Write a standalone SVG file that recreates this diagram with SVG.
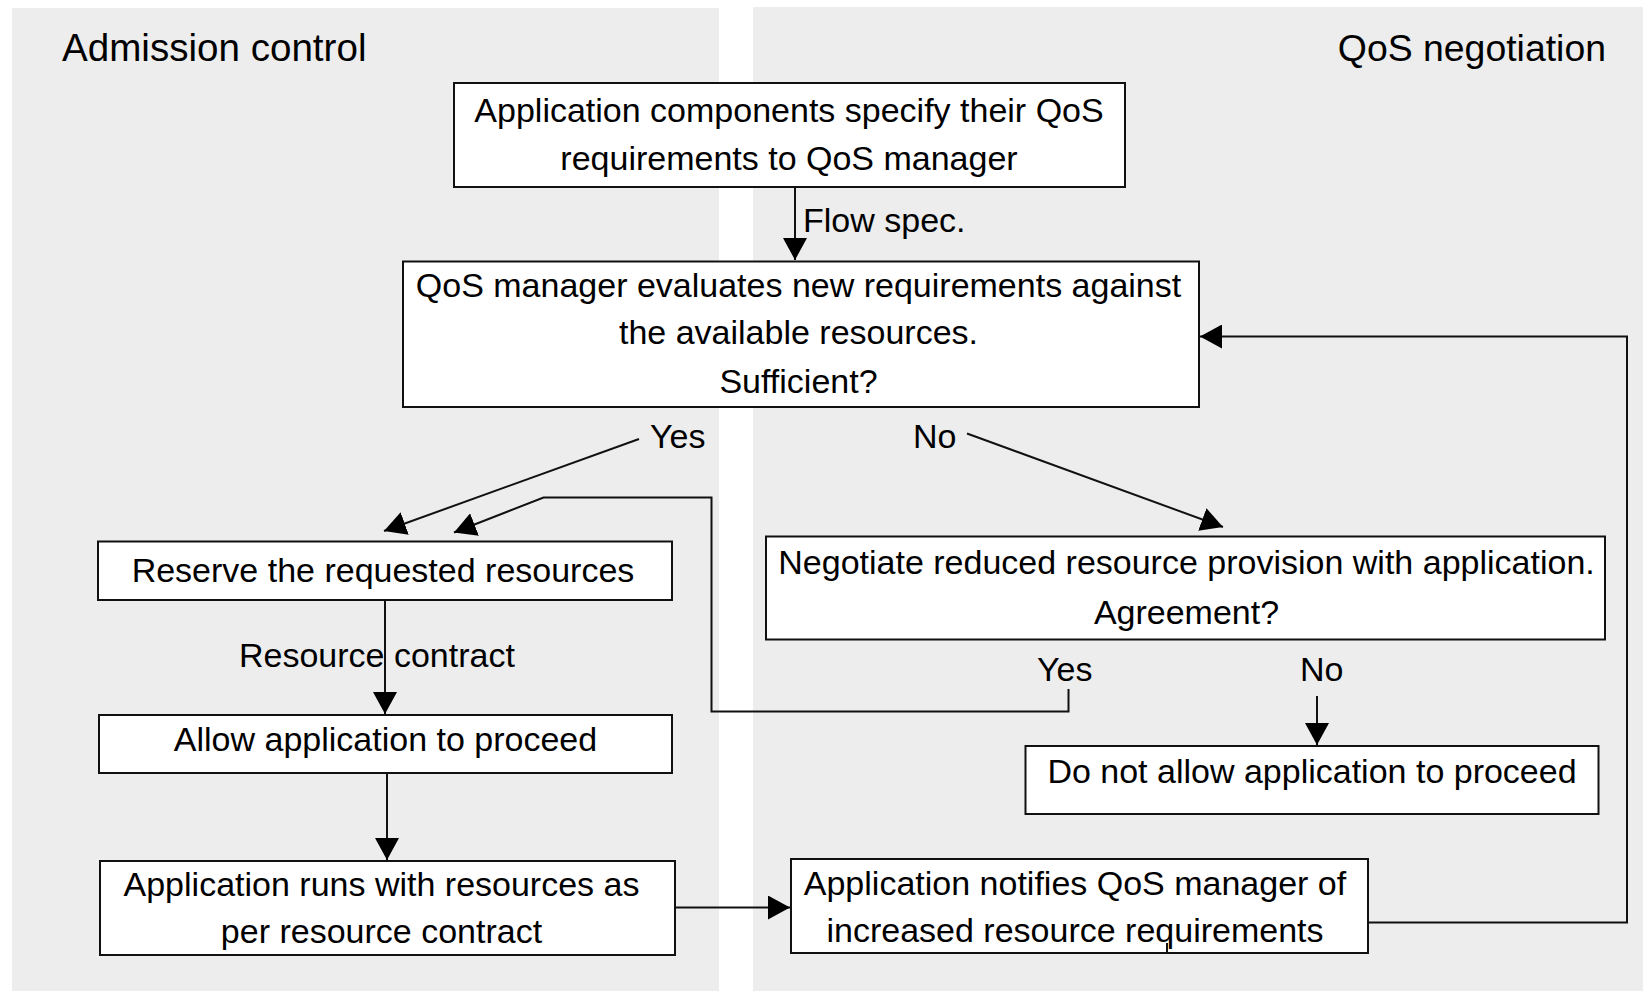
<svg xmlns="http://www.w3.org/2000/svg" width="1652" height="991" viewBox="0 0 1652 991">
<style>
text{font-family:"Liberation Sans",Arial,sans-serif;fill:#000}
.t{font-size:34px}
.c{text-anchor:middle}
.h1{font-size:38.6px}
.h2{font-size:37.4px}
.box{fill:#fff;stroke:#111;stroke-width:2}
.ln{fill:none;stroke:#111;stroke-width:2}
.panel{fill:#ededed}
</style>
<defs>
<marker id="ah" markerUnits="userSpaceOnUse" markerWidth="22" markerHeight="24" refX="22" refY="12" orient="auto">
<path d="M0,0 L22,12 L0,24 z" fill="#000"/>
</marker>
</defs>
<rect width="1652" height="991" fill="#fff"/>
<g id="panels">
<rect class="panel" x="12" y="8" width="707" height="983"/>
<rect class="panel" x="753" y="7" width="890" height="984"/>
<text class="h1" x="62" y="61">Admission control</text>
<text class="h2" x="1606" y="61" text-anchor="end">QoS negotiation</text>
</g>
<g id="connectors">
<line class="ln" x1="795" y1="188" x2="795" y2="260" marker-end="url(#ah)"/>
<text class="t" x="803" y="232">Flow spec.</text>
<line class="ln" x1="639" y1="439" x2="384" y2="531" marker-end="url(#ah)"/>
<text class="t" x="650" y="448">Yes</text>
<line class="ln" x1="967" y1="433.5" x2="1223" y2="527" marker-end="url(#ah)"/>
<text class="t" x="913" y="448">No</text>
<polyline class="ln" points="1068.5,689 1068.5,711.5 711.5,711.5 711.5,497.5 543.5,497.5 454,532.5" marker-end="url(#ah)"/>
<text class="t" x="1037" y="681">Yes</text>
<line class="ln" x1="1317" y1="696" x2="1317" y2="745" marker-end="url(#ah)"/>
<text class="t" x="1300" y="681">No</text>
<line class="ln" x1="385" y1="600" x2="385" y2="714" marker-end="url(#ah)"/>
<text class="t" x="239" y="667">Resource contract</text>
<line class="ln" x1="387" y1="773" x2="387" y2="860" marker-end="url(#ah)"/>
<line class="ln" x1="675" y1="907.5" x2="790" y2="907.5" marker-end="url(#ah)"/>
<polyline class="ln" points="1368,922.5 1627,922.5 1627,336.5 1200,336.5" marker-end="url(#ah)"/>
</g>
<g id="n-specify">
<rect class="box" x="454" y="83" width="671" height="104"/>
<text class="t c" x="789" y="122">Application components specify their QoS</text>
<text class="t c" x="789" y="170">requirements to QoS manager</text>
</g>
<g id="n-evaluate">
<rect class="box" x="403" y="261.5" width="796" height="145.5"/>
<text class="t c" x="798.5" y="297">QoS manager evaluates new requirements against</text>
<text class="t c" x="798.5" y="344">the available resources.</text>
<text class="t c" x="798.5" y="393">Sufficient?</text>
</g>
<g id="n-reserve">
<rect class="box" x="98" y="541.5" width="574" height="58.5"/>
<text class="t c" x="383" y="582">Reserve the requested resources</text>
</g>
<g id="n-allow">
<rect class="box" x="99" y="715" width="573" height="58"/>
<text class="t c" x="385.5" y="750.5">Allow application to proceed</text>
</g>
<g id="n-runs">
<rect class="box" x="100" y="861" width="575" height="94"/>
<text class="t c" x="381.5" y="896">Application runs with resources as</text>
<text class="t c" x="381.5" y="943">per resource contract</text>
</g>
<g id="n-negotiate">
<rect class="box" x="766" y="536.5" width="839" height="103"/>
<text class="t c" x="1186.5" y="573.5">Negotiate reduced resource provision with application.</text>
<text class="t c" x="1186.5" y="624">Agreement?</text>
</g>
<g id="n-deny">
<rect class="box" x="1025.5" y="746" width="573" height="68"/>
<text class="t c" x="1312" y="782.5">Do not allow application to proceed</text>
</g>
<g id="n-notify">
<rect class="box" x="791" y="859" width="577" height="94"/>
<text class="t c" x="1075" y="895">Application notifies QoS manager of</text>
<text class="t c" x="1075" y="942">increased resource requirements</text>
<line class="ln" x1="1167" y1="943" x2="1167" y2="953"/>
</g>
</svg>
